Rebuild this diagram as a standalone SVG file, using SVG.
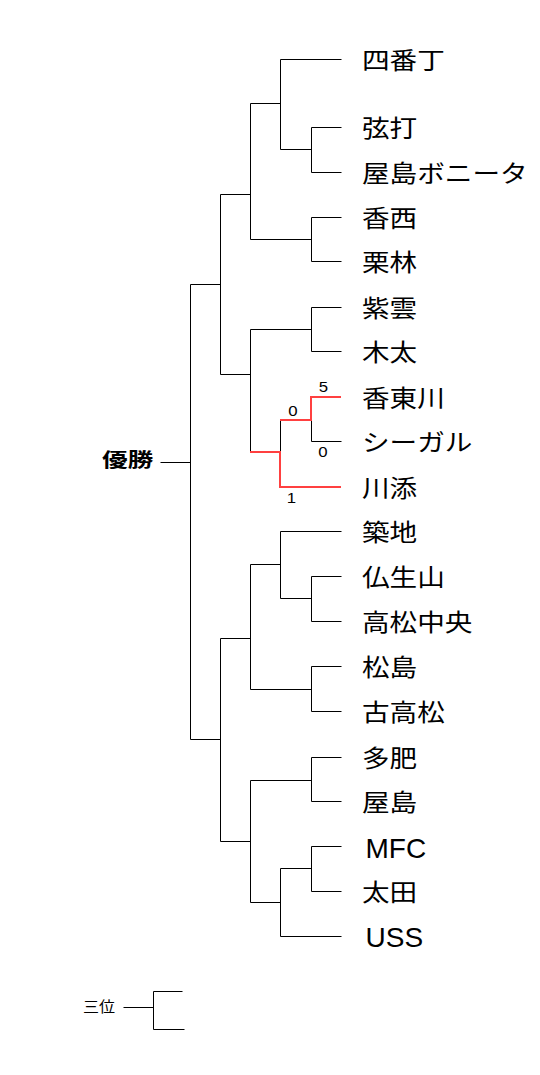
<svg xmlns="http://www.w3.org/2000/svg" width="540" height="1075" viewBox="0 0 540 1075">
<style>
.bg{fill:#fff}
.ln{fill:none;stroke:#000;stroke-width:1}
.rd{fill:none;stroke:#ff4040;stroke-width:2}
.jp{font-family:"Noto Sans CJK JP","Noto Sans CJK SC",sans-serif;font-size:24px;fill:#000}
.en{font-family:"Liberation Sans",Arial,sans-serif;font-size:28px;fill:#000}
.sc{font-family:"Liberation Sans",Arial,sans-serif;font-size:14px;fill:#000;text-anchor:middle}
.win{font-family:"Noto Sans CJK JP","Noto Sans CJK SC",sans-serif;font-size:19px;font-weight:bold;fill:#000}
.third{font-family:"Noto Sans CJK JP","Noto Sans CJK SC",sans-serif;font-size:15px;fill:#000}
</style>
<rect class="bg" width="540" height="1075"/>
<g id="connectors">
<g class="ln" transform="translate(0.5,0.5)">
<path d="M341 59H280V149H311"/>
<path d="M341 127H311V172H341"/>
<path d="M280 103H250V239H311"/>
<path d="M341 217H311V261H341"/>
<path d="M250 194H220V374H250"/>
<path d="M341 307H311V351H341"/>
<path d="M311 329H250V452"/>
<path d="M280 420V452"/>
<path d="M311 420V441H341"/>
<path d="M220 284H190V739H220"/>
<path d="M160 462H190"/>
<path d="M341 531H280V598H311"/>
<path d="M341 576H311V621H341"/>
<path d="M280 564H250V689H311"/>
<path d="M341 666H311V711H341"/>
<path d="M250 638H220V841H250"/>
<path d="M341 757H311V801H341"/>
<path d="M311 780H250V902H280"/>
<path d="M341 846H311V891H341"/>
<path d="M311 868H280V936H341"/>
<path d="M123 1007H153"/>
<path d="M182 991H153V1029H184"/>
</g>
<g class="rd">
<path d="M250 452H280V487H341"/>
<path d="M280 420H311V397H341"/>
</g>
<text class="sc" transform="translate(323.5,392) scale(1.2,1)">5</text>
<text class="sc" transform="translate(293,416) scale(1.2,1)">0</text>
<text class="sc" transform="translate(323,457) scale(1.2,1)">0</text>
<text class="sc" transform="translate(291.5,503) scale(1.2,1)">1</text>
</g>
<g id="n-yusho"><text class="win" transform="translate(102,467) scale(1.35,1)">優勝</text></g>
<g id="n-sani"><text class="third" transform="translate(83,1012) scale(1.07,1)">三位</text></g>
<g id="n1"><text class="jp" transform="translate(362,69) scale(1.15,1)">四番丁</text></g>
<g id="n2"><text class="jp" transform="translate(362,137) scale(1.15,1)">弦打</text></g>
<g id="n3"><text class="jp" transform="translate(362,182) scale(1.15,1)">屋島ボニータ</text></g>
<g id="n4"><text class="jp" transform="translate(362,227) scale(1.15,1)">香西</text></g>
<g id="n5"><text class="jp" transform="translate(362,271) scale(1.15,1)">栗林</text></g>
<g id="n6"><text class="jp" transform="translate(362,317) scale(1.15,1)">紫雲</text></g>
<g id="n7"><text class="jp" transform="translate(362,361) scale(1.15,1)">木太</text></g>
<g id="n8"><text class="jp" transform="translate(362,407) scale(1.15,1)">香東川</text></g>
<g id="n9"><text class="jp" transform="translate(362,451) scale(1.15,1)">シーガル</text></g>
<g id="n10"><text class="jp" transform="translate(362,497) scale(1.15,1)">川添</text></g>
<g id="n11"><text class="jp" transform="translate(362,541) scale(1.15,1)">築地</text></g>
<g id="n12"><text class="jp" transform="translate(362,586) scale(1.15,1)">仏生山</text></g>
<g id="n13"><text class="jp" transform="translate(362,631) scale(1.15,1)">高松中央</text></g>
<g id="n14"><text class="jp" transform="translate(362,676) scale(1.15,1)">松島</text></g>
<g id="n15"><text class="jp" transform="translate(362,721) scale(1.15,1)">古高松</text></g>
<g id="n16"><text class="jp" transform="translate(362,767) scale(1.15,1)">多肥</text></g>
<g id="n17"><text class="jp" transform="translate(362,811) scale(1.15,1)">屋島</text></g>
<g id="n18"><text class="en" x="365.5" y="858">MFC</text></g>
<g id="n19"><text class="jp" transform="translate(362,901) scale(1.15,1)">太田</text></g>
<g id="n20"><text class="en" x="365.5" y="947">USS</text></g>
</svg>
